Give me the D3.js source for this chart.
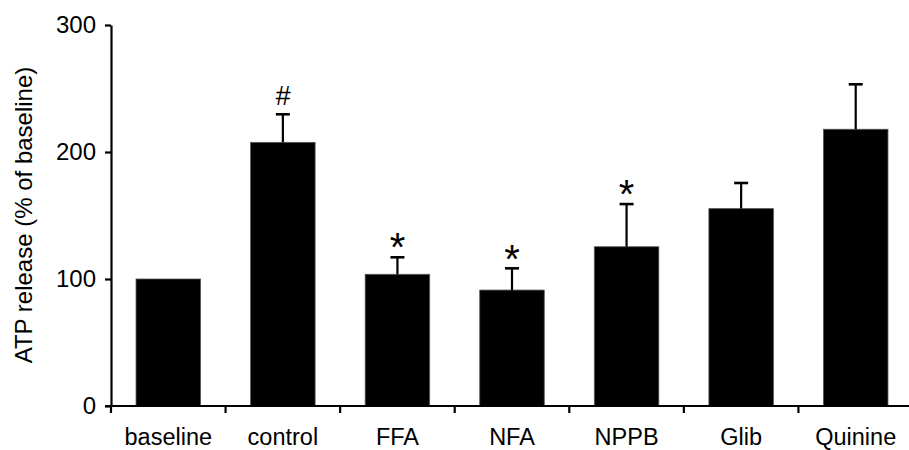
<!DOCTYPE html>
<html>
<head>
<meta charset="utf-8">
<script src="https://cdn.jsdelivr.net/npm/d3@7"></script>
<style>
  html, body { margin: 0; padding: 0; background: #fff; }
  svg { display: block; }
  text { font-family: "Liberation Sans", Arial, Helvetica, sans-serif; fill: #000; }
</style>
</head>
<body>
<svg id="chart" width="909" height="450"></svg>
<script>
const categories = ["baseline", "control", "FFA", "NFA", "NPPB", "Glib", "Quinine"];
const values     = [100, 207.6, 103.7, 91.3, 125.4, 155.4, 217.9];
const errors     = [0, 22.1, 13.4, 17.1, 33.6, 20.2, 35.4];
const marks      = ["", "#", "*", "*", "*", "", ""];
const yTicks     = [0, 100, 200, 300];

const svg = d3.select("#chart");

const x = d3.scaleBand()
  .domain(categories)
  .range([111, 913])
  .paddingInner(0.437)
  .paddingOuter(0.2185);

const y = d3.scaleLinear().domain([0, 300]).range([406, 25]);

// bars
svg.append("g").selectAll("rect")
  .data(categories)
  .join("rect")
  .attr("x", d => x(d))
  .attr("width", x.bandwidth())
  .attr("y", (d, i) => y(values[i]))
  .attr("height", (d, i) => y(0) - y(values[i]))
  .attr("fill", "#000")
  .attr("stroke", "#555")
  .attr("stroke-width", 0.8);

// error bars + significance marks
const eb = svg.append("g");
categories.forEach((c, i) => {
  if (!errors[i]) return;
  const cx = x(c) + x.bandwidth() / 2;
  const top = y(values[i] + errors[i]);
  eb.append("line")
    .attr("x1", cx).attr("x2", cx)
    .attr("y1", y(values[i])).attr("y2", top)
    .attr("stroke", "#000").attr("stroke-width", 2.2);
  eb.append("line")
    .attr("x1", cx - 7).attr("x2", cx + 7)
    .attr("y1", top).attr("y2", top)
    .attr("stroke", "#000").attr("stroke-width", 2.6);
  if (marks[i]) {
    const isStar = marks[i] === "*";
    const fs = isStar ? 40 : 27;
    const centerY = top - 19;
    const baseY = isStar ? centerY + 0.58 * fs : centerY + 0.36 * fs;
    eb.append("text")
      .attr("x", cx)
      .attr("y", baseY)
      .attr("text-anchor", "middle")
      .attr("font-size", fs)
      .attr("font-style", isStar ? "normal" : "italic")
      .text(marks[i]);
  }
});

// y axis
const yAxis = svg.append("g")
  .attr("transform", "translate(111,0)")
  .call(d3.axisLeft(y).tickValues(yTicks).tickSize(6).tickSizeOuter(0).tickPadding(9));
yAxis.select(".domain").attr("stroke", "#000").attr("stroke-width", 2.2);
yAxis.selectAll(".tick line").attr("stroke", "#000").attr("stroke-width", 2.2);
yAxis.selectAll(".tick text")
  .attr("font-size", 24)
  .attr("font-family", "Liberation Sans, Arial, sans-serif")
  .attr("fill", "#000")
  .attr("dy", "0.3em");

// x axis: line + boundary ticks
const xg = svg.append("g");
xg.append("line")
  .attr("x1", 105).attr("x2", 913)
  .attr("y1", y(0)).attr("y2", y(0))
  .attr("stroke", "#000").attr("stroke-width", 2.2);
const bounds = categories.map(c => x(c) - (x.step() - x.bandwidth()) / 2);
xg.selectAll("line.bt")
  .data(bounds)
  .join("line")
  .attr("class", "bt")
  .attr("x1", d => d).attr("x2", d => d)
  .attr("y1", y(0)).attr("y2", y(0) + 7)
  .attr("stroke", "#000").attr("stroke-width", 2.2);
xg.selectAll("text")
  .data(categories)
  .join("text")
  .attr("x", d => x(d) + x.bandwidth() / 2)
  .attr("y", 445)
  .attr("text-anchor", "middle")
  .attr("font-size", 23.5)
  .text(d => d);

// y title
svg.append("text")
  .attr("transform", "translate(32,215) rotate(-90)")
  .attr("text-anchor", "middle")
  .attr("font-size", 24)
  .text("ATP release (% of baseline)");
</script>
</body>
</html>
